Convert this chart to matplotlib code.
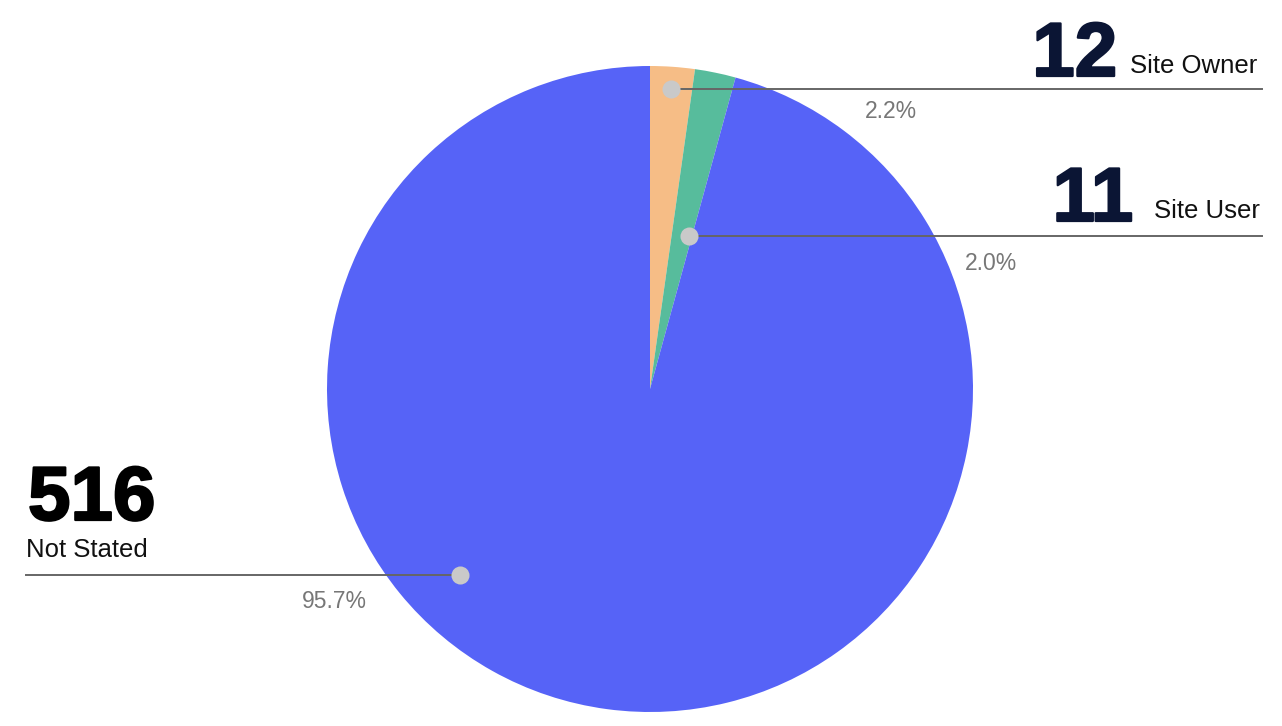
import numpy as np
import matplotlib.pyplot as plt
import matplotlib.patheffects as pe

# data
categories = ["Site Owner", "Site User", "Not Stated"]
counts = [12, 11, 516]
colors = ["#F6BD86", "#57BC9C", "#5663F7"]
number_colors = ["#0B1534", "#0B1534", "#000000"]

# label layout (pixel space, y measured from top)
dot_where = [(0.5, 0.93), (0.85, 0.49), (0.61, 0.825)]  # (fraction across wedge, fraction of radius)
line_end_x = [1262, 1262, 26]
number_pos = [(1117, 76, "right"), (1133, 221, "right"), (28, 520, "left")]
name_pos = [(1130, 73), (1154, 218), (26, 557)]
pct_pos = [(891, 112), (991, 263), (334, 601)]

W, H = 1282, 726
cx, cy, R = 650, 389, 323

plt.rcParams["font.family"] = ["Liberation Sans", "DejaVu Sans"]
fig = plt.figure(figsize=(W / 100, H / 100), dpi=100)
ax = fig.add_axes([0, 0, 1, 1])

ax.pie(counts, colors=colors, startangle=90, counterclock=False,
       center=(cx, H - cy), radius=R, wedgeprops=dict(linewidth=0))
ax.set_xlim(0, W)
ax.set_ylim(0, H)
ax.set_aspect("equal")
ax.axis("off")

total = sum(counts)
cum = np.concatenate([[0], np.cumsum(counts)]) / total
for i, name in enumerate(categories):
    f, rf = dot_where[i]
    frac = cum[i] + f * (cum[i + 1] - cum[i])
    ang = np.deg2rad(90 - 360 * frac)
    dx = cx + rf * R * np.cos(ang)
    dy = (H - cy) + rf * R * np.sin(ang)
    ax.plot([dx, line_end_x[i]], [dy, dy], color="#666666", lw=1.4, zorder=3)
    ax.plot(dx, dy, "o", color="#C9C9C9", markersize=13, mec="none", zorder=4)

    nx, ny, ha = number_pos[i]
    ax.text(nx, H - ny, str(counts[i]), fontsize=55, fontweight="bold",
            color=number_colors[i], ha=ha, va="baseline",
            path_effects=[pe.withStroke(linewidth=1.6, foreground=number_colors[i])])
    ax.text(name_pos[i][0], H - name_pos[i][1], name, fontsize=18.5,
            color="#111111", ha="left", va="baseline")
    ax.text(pct_pos[i][0], H - pct_pos[i][1], f"{counts[i] / total * 100:.1f}%",
            fontsize=16.5, color="#777777", ha="center", va="center")

fig.savefig("out.png", dpi=100)
